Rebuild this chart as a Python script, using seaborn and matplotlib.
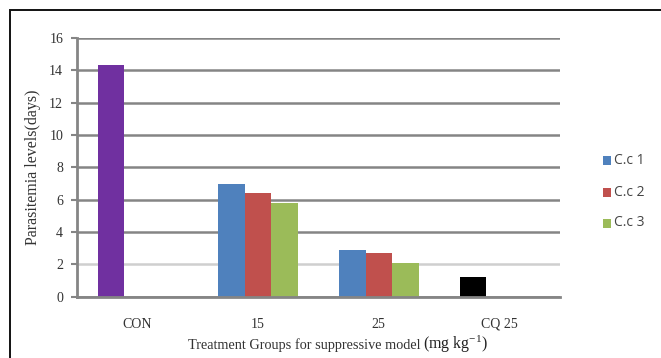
import matplotlib
matplotlib.use("Agg")
import matplotlib.pyplot as plt
import matplotlib.patches as mpatches
import seaborn as sns
import pandas as pd

# Data: parasitemia levels per treatment group
groups = ["CON", "15", "25", "CQ 25"]
series_names = ["C.c 1", "C.c 2", "C.c 3"]
cc1 = [14.3, 7.0, 2.9, 1.2]
cc2 = [0.0, 6.4, 2.7, 0.0]
cc3 = [0.0, 5.8, 2.1, 0.0]
yticks = [0, 2, 4, 6, 8, 10, 12, 14, 16]

series_colors = ["#4F81BD", "#C0504D", "#9BBB59"]
control_color = "#7030A0"
chloroquine_color = "#000000"

df = pd.DataFrame({
    "group": groups * 3,
    "series": [series_names[0]] * 4 + [series_names[1]] * 4 + [series_names[2]] * 4,
    "value": cc1 + cc2 + cc3,
})

sns.set_theme(style="white")
plt.rcParams["mathtext.fontset"] = "custom"
plt.rcParams["mathtext.rm"] = "Liberation Serif"
plt.rcParams["mathtext.it"] = "Liberation Serif:italic"

fig = plt.figure(figsize=(6.61, 3.58), dpi=100)
ax = fig.add_axes([0.1165, 0.171, 0.847 - 0.1165, 0.894 - 0.171])

sns.barplot(data=df, x="group", y="value", hue="series", order=groups,
            hue_order=series_names, palette=series_colors, width=0.66,
            linewidth=0, saturation=1, errorbar=None, ax=ax, legend=False)

# control and chloroquine bars get their own colours
first = ax.containers[0]
first.patches[0].set_facecolor(control_color)
first.patches[3].set_facecolor(chloroquine_color)

ax.set_ylim(0, 16)
ax.set_yticks(yticks)
ax.set_xlim(-0.5, 3.5)

grid_c = "#858585"
ax.yaxis.grid(True, color=grid_c, linewidth=1.8)
ax.set_axisbelow(True)
for s in ["top", "right"]:
    ax.spines[s].set_visible(False)
ax.spines["left"].set_color(grid_c)
ax.spines["left"].set_linewidth(2)
ax.spines["bottom"].set_color(grid_c)
ax.spines["bottom"].set_linewidth(2)
gl = ax.get_ygridlines()
gl[1].set_color("#cfcfcf")

ax.tick_params(axis="y", left=True, length=4, width=1.5, color=grid_c,
               labelsize=10, pad=6, labelcolor="#333333")
ax.tick_params(axis="x", bottom=False, labelsize=10, pad=9, labelcolor="#333333")
for lab in ax.get_yticklabels() + ax.get_xticklabels():
    lab.set_family("Liberation Serif")
ax.set_xlabel("")
ax.set_ylabel("Parasitemia levels(days)", family="Liberation Serif",
              fontsize=11.5, color="#333333", labelpad=6)

base_y = 1 - 349 / 358
fig.text(420 / 661, base_y, "Treatment Groups for suppressive model", ha="right",
         va="baseline", family="Liberation Serif", fontsize=10.3, color="#333333")
fig.text(423 / 661, base_y, r"(mg kg$^{\mathrm{-1}}$)", ha="left", va="baseline",
         family="Liberation Serif", fontsize=11.5, color="#222222")

# legend entries
leg_y = [1 - 160 / 358, 1 - 192 / 358, 1 - 223 / 358]
for name, col, y in zip(series_names, series_colors, leg_y):
    fig.patches.append(mpatches.Rectangle((603 / 661, y - 4.5 / 358), 8 / 661, 9 / 358,
                                          transform=fig.transFigure, facecolor=col,
                                          edgecolor="none"))
    fig.text(614 / 661, y, name, ha="left", va="center", family="Open Sans",
             fontsize=10, color="#444444")

# outer frame
fig.patches.append(mpatches.Rectangle((10 / 661, -0.2), 1.2, 1 - 10 / 358 + 0.2,
                                      transform=fig.transFigure, fill=False,
                                      edgecolor="#111111", linewidth=1.4))

fig.savefig("out.png", dpi=100)
